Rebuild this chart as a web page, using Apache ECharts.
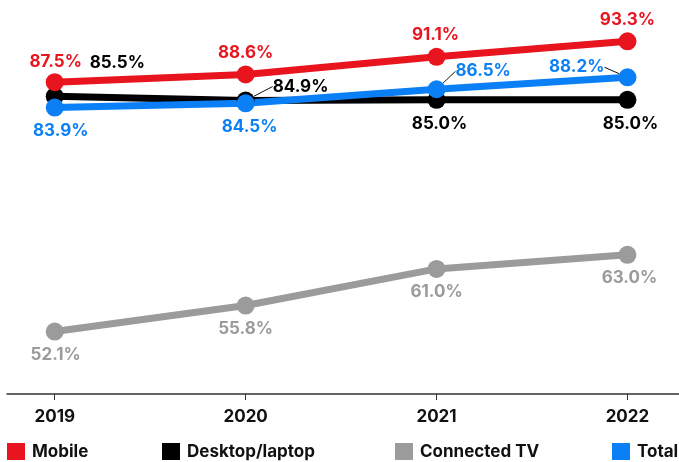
<!DOCTYPE html>
<html>
<head>
<meta charset="utf-8">
<script src="https://cdn.jsdelivr.net/npm/echarts@6/dist/echarts.min.js"></script>
<style>
  html, body { margin: 0; padding: 0; background: #fff; }
  #chart { width: 679px; height: 462px; }
</style>
</head>
<body>
<div id="chart"></div>
<script>
// Years on the x axis
const years = [2019, 2020, 2021, 2022];

// Share of users by device (%)
const mobile = [87.5, 88.6, 91.1, 93.3];
const desktop = [85.5, 84.9, 85.0, 85.0];
const connectedTV = [52.1, 55.8, 61.0, 63.0];
const total = [83.9, 84.5, 86.5, 88.2];

const seriesNames = ['Mobile', 'Desktop/laptop', 'Connected TV', 'Total'];
const colors = {
  'Mobile': '#e8141e',
  'Desktop/laptop': '#000000',
  'Connected TV': '#9b9b9b',
  'Total': '#0b80f6'
};

const FONT = 'Inter, "Noto Sans", sans-serif';

function pairs(values) {
  return values.map((v, i) => [years[i], v]);
}

// Per-point label placement tweaks
function withLabels(values, labelFor) {
  return pairs(values).map((p, i) => {
    const item = { value: p };
    const extra = labelFor(i);
    if (extra) Object.assign(item, extra);
    return item;
  });
}

const leader = { show: true, lineStyle: { color: '#111', width: 1 } };

function baseSeries(name, data, position) {
  return {
    name: name,
    type: 'line',
    data: data,
    symbol: 'circle',
    symbolSize: 18,
    lineStyle: { width: 7, color: colors[name] },
    itemStyle: { color: colors[name] },
    label: {
      show: true,
      position: position,
      distance: 5,
      formatter: p => p.value[1].toFixed(1) + '%',
      color: colors[name],
      fontFamily: FONT,
      fontWeight: 'bold',
      fontSize: 17
    },
    emphasis: { disabled: true },
    animation: false
  };
}

// Shift each label by its own (dx, dy)
function shifts(list) {
  return p => {
    const s = list[p.dataIndex];
    return s ? { dx: s[0], dy: s[1] } : {};
  };
}

const mobileSeries = baseSeries('Mobile', pairs(mobile), 'top');
mobileSeries.labelLayout = shifts([[1, 2], [0, 1], [-1, 1], [0, 1]]);

const desktopSeries = baseSeries('Desktop/laptop', withLabels(desktop, i => {
  if (i === 0) return { label: { position: 'right' } };
  if (i === 1) return { label: { position: 'right' }, labelLine: leader };
}), 'bottom');
desktopSeries.labelLayout = shifts([[21, -33], [13, -14], [3, 2], [3, 2]]);

const ctvSeries = baseSeries('Connected TV', pairs(connectedTV), 'bottom');
ctvSeries.labelLayout = shifts([[1, 1], [0, 1], [0, 1], [2, 1]]);

const totalSeries = baseSeries('Total', withLabels(total, i => {
  if (i === 2) return { label: { position: 'right' }, labelLine: leader };
  if (i === 3) return { label: { position: 'left' }, labelLine: leader };
}), 'bottom');
totalSeries.labelLayout = shifts([[6, 1], [4, 1], [5, -18], [-9, -10]]);

// One legend per entry so each swatch sits at its own spot along the bottom
const legendLefts = [7, 162, 395, 612];
const legends = seriesNames.map((name, i) => ({
  show: true,
  data: [name],
  left: legendLefts[i],
  top: 443,
  orient: 'horizontal',
  icon: 'rect',
  itemWidth: 18,
  itemHeight: 17,
  selectedMode: false,
  padding: 0,
  textStyle: {
    fontFamily: FONT,
    fontWeight: 'bold',
    fontSize: 17,
    color: '#111',
    padding: [0, 0, 0, 2]
  }
}));

const chart = echarts.init(document.getElementById('chart'), null, { renderer: 'canvas' });

chart.setOption({
  backgroundColor: '#ffffff',
  animation: false,
  color: seriesNames.map(n => colors[n]),
  legend: legends,
  grid: {
    left: 7,
    right: 0,
    top: 0,
    bottom: 68,
    containLabel: false,
    outerBoundsMode: 'none'
  },
  xAxis: {
    type: 'value',
    min: 2018.75,
    max: 2022.27,
    splitLine: { show: false },
    axisLine: { show: true, onZero: false, lineStyle: { color: '#333', width: 1.5 } },
    axisTick: {
      show: true,
      customValues: years,
      length: 6,
      lineStyle: { color: '#333', width: 1 }
    },
    axisLabel: {
      customValues: years,
      formatter: v => String(v),
      margin: 14,
      fontFamily: FONT,
      fontWeight: 'bold',
      fontSize: 17,
      color: '#111'
    }
  },
  yAxis: {
    type: 'value',
    min: 43.24,
    max: 99.17,
    show: false,
    splitLine: { show: false }
  },
  series: [ctvSeries, desktopSeries, totalSeries, mobileSeries]
});
</script>
</body>
</html>
